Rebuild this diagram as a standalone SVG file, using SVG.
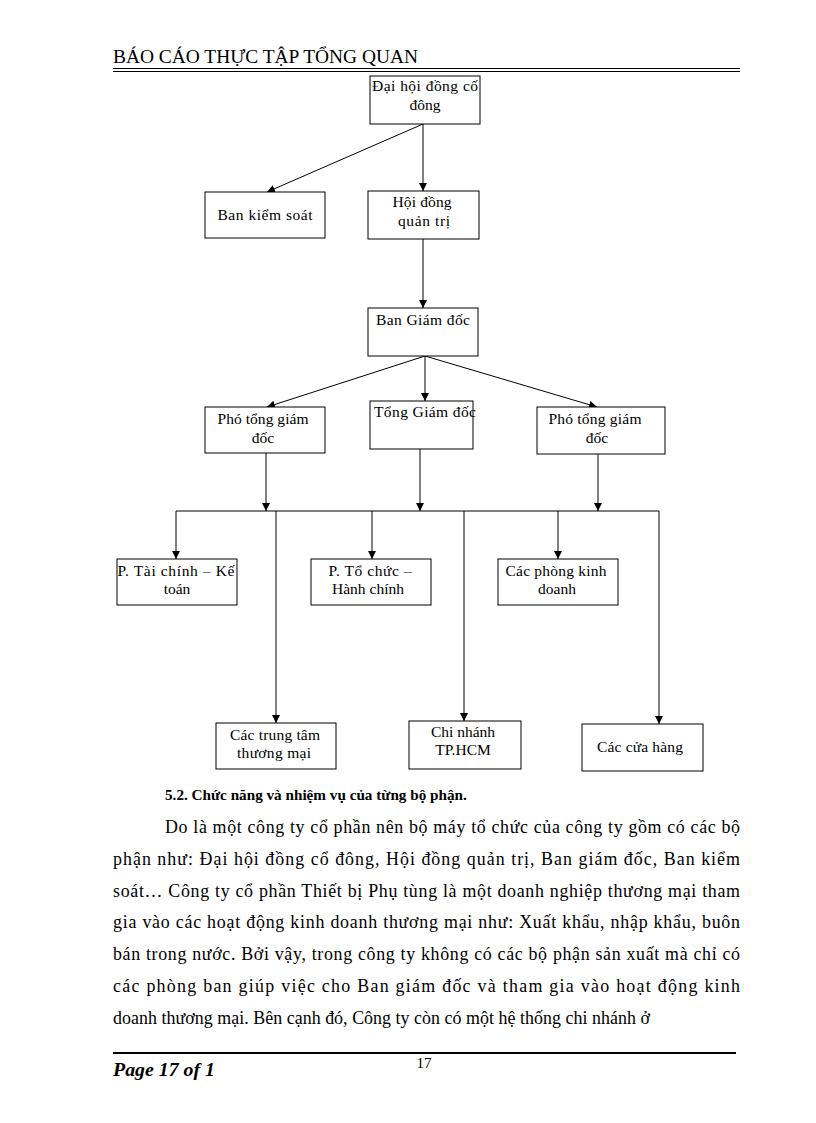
<svg xmlns="http://www.w3.org/2000/svg" width="816" height="1123" viewBox="0 0 816 1123">
<defs>
<marker id="ah" viewBox="0 0 10 10" refX="10" refY="5" markerWidth="8" markerHeight="8" markerUnits="userSpaceOnUse" orient="auto">
<path d="M0,0 L10,5 L0,10 z" fill="#000"/>
</marker>
<style>
.box{fill:#fff;stroke:#000;stroke-width:1}
.bt{font-family:"Liberation Serif","Times New Roman",serif;font-size:15.5px;fill:#000;text-anchor:middle}
.body{font-family:"Liberation Serif","Times New Roman",serif;font-size:17.9px;fill:#000}
.conn path{fill:none;stroke:#000;stroke-width:1}
.arr{marker-end:url(#ah)}
</style>
</defs>
<rect width="816" height="1123" fill="#fff"/>
<g id="header">
<text x="113" y="63" class="body" style="font-size:18px" textLength="305" lengthAdjust="spacingAndGlyphs">BÁO CÁO THỰC TẬP TỔNG QUAN</text>
<line x1="113" y1="68.5" x2="740" y2="68.5" stroke="#000" stroke-width="1.2"/>
<line x1="113" y1="71.5" x2="740" y2="71.5" stroke="#000" stroke-width="1.2"/>
</g>
<g class="conn" id="connectors">
<path class="arr" d="M423,124 V191"/>
<path class="arr" d="M423,124 L267,192"/>
<path class="arr" d="M423,239 V308"/>
<path class="arr" d="M425,356 L267,407"/>
<path class="arr" d="M425,356 V401"/>
<path class="arr" d="M425,356 L597,407"/>
<path class="arr" d="M266,453 V511"/>
<path class="arr" d="M420,449 V511"/>
<path class="arr" d="M598,454 V511"/>
<path d="M176,511 H659"/>
<path class="arr" d="M176,511 V559"/>
<path class="arr" d="M372,511 V559"/>
<path class="arr" d="M558,511 V559"/>
<path class="arr" d="M276,511 V723"/>
<path class="arr" d="M464,511 V721"/>
<path class="arr" d="M659,511 V724"/>
</g>
<g id="n-dhdcd"><rect class="box" x="370" y="76" width="110" height="48"/><text class="bt" x="425" y="91" textLength="106" lengthAdjust="spacing">Đại hội đồng cố</text><text class="bt" x="425" y="110">đông</text></g>
<g id="n-bks"><rect class="box" x="205" y="192" width="120" height="46"/><text class="bt" x="265" y="220" textLength="95" lengthAdjust="spacing">Ban kiểm soát</text></g>
<g id="n-hdqt"><rect class="box" x="368" y="191" width="111" height="48"/><text class="bt" x="422" y="207" textLength="59" lengthAdjust="spacing">Hội đồng</text><text class="bt" x="424" y="226" textLength="52" lengthAdjust="spacing">quản trị</text></g>
<g id="n-bgd"><rect class="box" x="368" y="308" width="110" height="48"/><text class="bt" x="423" y="325" textLength="94" lengthAdjust="spacing">Ban Giám đốc</text></g>
<g id="n-ptgd1"><rect class="box" x="205" y="407" width="120" height="46"/><text class="bt" x="263" y="424" textLength="91" lengthAdjust="spacing">Phó tổng giám</text><text class="bt" x="263" y="443">đốc</text></g>
<g id="n-tgd"><rect class="box" x="370" y="401" width="103" height="48"/><text class="bt" x="425" y="417" textLength="102" lengthAdjust="spacing">Tổng Giám đốc</text></g>
<g id="n-ptgd2"><rect class="box" x="537" y="407" width="128" height="47"/><text class="bt" x="595" y="424" textLength="93" lengthAdjust="spacing">Phó tổng giám</text><text class="bt" x="597" y="443">đốc</text></g>
<g id="n-tckt"><rect class="box" x="117" y="559" width="120" height="46"/><text class="bt" x="176" y="576" textLength="117" lengthAdjust="spacing">P. Tài chính – Kế</text><text class="bt" x="177" y="594">toán</text></g>
<g id="n-tchc"><rect class="box" x="311" y="559" width="120" height="46"/><text class="bt" x="370" y="576" textLength="83" lengthAdjust="spacing">P. Tổ chức –</text><text class="bt" x="368" y="594" textLength="72" lengthAdjust="spacing">Hành chính</text></g>
<g id="n-cpkd"><rect class="box" x="498" y="559" width="120" height="46"/><text class="bt" x="556" y="576" textLength="101" lengthAdjust="spacing">Các phòng kinh</text><text class="bt" x="557" y="594">doanh</text></g>
<g id="n-cttm"><rect class="box" x="216" y="723" width="120" height="46"/><text class="bt" x="275" y="740" textLength="90" lengthAdjust="spacing">Các trung tâm</text><text class="bt" x="274" y="758" textLength="74" lengthAdjust="spacing">thương mại</text></g>
<g id="n-cn"><rect class="box" x="409" y="721" width="112" height="48"/><text class="bt" x="463" y="737" textLength="64" lengthAdjust="spacing">Chi nhánh</text><text class="bt" x="463" y="755">TP.HCM</text></g>
<g id="n-cch"><rect class="box" x="582" y="724" width="121" height="47"/><text class="bt" x="640" y="752" textLength="86" lengthAdjust="spacing">Các cửa hàng</text></g>
<g id="text">
<text x="165" y="800" class="body" font-weight="bold" style="font-size:15.2px">5.2. Chức năng và nhiệm vụ của từng bộ phận.</text>
<text x="165" y="833" class="body" textLength="575" lengthAdjust="spacing">Do là một công ty cổ phần nên bộ máy tổ chức của công ty gồm có các bộ</text>
<text x="113" y="865" class="body" textLength="627" lengthAdjust="spacing">phận như: Đại hội đồng cổ đông, Hội đồng quản trị, Ban giám đốc, Ban kiểm</text>
<text x="113" y="897" class="body" textLength="627" lengthAdjust="spacing">soát… Công ty cổ phần Thiết bị Phụ tùng là một doanh nghiệp thương mại tham</text>
<text x="113" y="928" class="body" textLength="627" lengthAdjust="spacing">gia vào các hoạt động kinh doanh thương mại như: Xuất khẩu, nhập khẩu, buôn</text>
<text x="113" y="960" class="body" textLength="627" lengthAdjust="spacing">bán trong nước. Bởi vậy, trong công ty không có các bộ phận sản xuất mà chỉ có</text>
<text x="113" y="992" class="body" textLength="627" lengthAdjust="spacing">các phòng ban giúp việc cho Ban giám đốc và tham gia vào hoạt động kinh</text>
<text x="113" y="1024" class="body" textLength="537" lengthAdjust="spacing">doanh thương mại. Bên cạnh đó, Công ty còn có một hệ thống chi nhánh ở</text>
</g>
<g id="footer">
<line x1="113" y1="1053" x2="736" y2="1053" stroke="#000" stroke-width="2"/>
<text x="113" y="1076" class="body" font-weight="bold" font-style="italic" style="font-size:19px" textLength="102" lengthAdjust="spacingAndGlyphs">Page 17 of 1</text>
<text x="424" y="1068" class="bt" style="font-size:15px">17</text>
</g>
</svg>
